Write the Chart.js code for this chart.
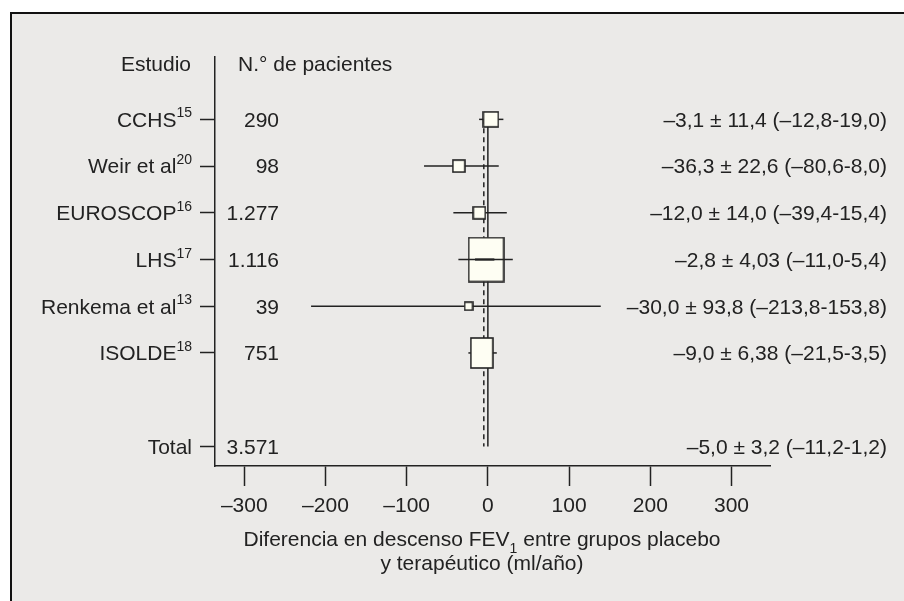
<!DOCTYPE html>
<html>
<head>
<meta charset="utf-8">
<script src="https://cdn.jsdelivr.net/npm/chart.js@4.4.0/dist/chart.umd.min.js"></script>
<style>
  html, body { margin: 0; padding: 0; background: #fff; }
  #frame { position: absolute; left: 10px; top: 12px; right: 0; bottom: 0;
           background: #ebeae8; border-left: 2px solid #111; border-top: 2px solid #111; }
  #wrap { position: absolute; left: 0; top: 0; width: 904px; height: 601px; }
</style>
</head>
<body>
<div id="frame"></div>
<div id="wrap"><canvas id="chart"></canvas></div>
<script>
// Datos del forest plot
const STUDIES = ["CCHS", "Weir et al", "EUROSCOP", "LHS", "Renkema et al", "ISOLDE", "Total"];
const REFS = ["15", "20", "16", "17", "13", "18", ""];
const ROWS = [0, 1, 2, 3, 4, 5, 7];
const PATIENTS = ["290", "98", "1.277", "1.116", "39", "751", "3.571"];
const SUMMARY = [
  "–3,1 ± 11,4 (–12,8-19,0)",
  "–36,3 ± 22,6 (–80,6-8,0)",
  "–12,0 ± 14,0 (–39,4-15,4)",
  "–2,8 ± 4,03 (–11,0-5,4)",
  "–30,0 ± 93,8 (–213,8-153,8)",
  "–9,0 ± 6,38 (–21,5-3,5)",
  "–5,0 ± 3,2 (–11,2-1,2)",
];
// posición de los cuadrados y extremos de las barras tal como están dibujados
const EFFECT = [3.7, -35.8, -10.5, -2.2, -23.8, -7.5];
const CI_LOW = [-10.8, -78.6, -42.5, -36.3, -217.7, -24.0];
const CI_HIGH = [19.1, 13.4, 23.3, 30.7, 139.0, 11.0];
const LHS_INNER = [-15.8, 8.0];
const NO_EFFECT = 0;
const POOLED = -5.0;
const X_TICKS = [-300, -200, -100, 0, 100, 200, 300];
const X_TICK_LABELS = ["–300", "–200", "–100", "0", "100", "200", "300"];

// Estilo
const INK = "#222";
const BOX_FILL = "#fefef3";
const FAMILY = "'Liberation Sans', Arial, sans-serif";
const FS = 21, FS_SMALL = 14;
const BOX_SIZE = [[15, 15], [12, 12], [12, 12.4], [34.7, 44], [8.4, 8], [22, 30]];
const WHISKER_ON_TOP = 3; // en LHS la barra cruza el cuadrado

function boxImage([w, h]) {
  const c = document.createElement("canvas");
  c.width = Math.round(w) + 2; c.height = Math.round(h) + 2;
  const g = c.getContext("2d");
  g.fillStyle = BOX_FILL; g.fillRect(1, 1, c.width - 2, c.height - 2);
  g.strokeStyle = INK; g.lineWidth = 1.6; g.strokeRect(1, 1, c.width - 2, c.height - 2);
  return c;
}
const seg = (x0, x1, y0, y1, extra) => Object.assign({
  data: [{ x: x0, y: y0 }, { x: x1, y: y1 }], showLine: true, pointRadius: 0,
  borderColor: INK, borderWidth: 1.5, order: 2,
}, extra);

// Textos: estudios (con superíndice), n.º de pacientes, resultados, cabeceras y título del eje
const texts = {
  id: "texts",
  afterDraw(chart) {
    const { ctx, scales: { y } } = chart;
    const big = `${FS}px ${FAMILY}`, small = `${FS_SMALL}px ${FAMILY}`;
    ctx.save();
    ctx.fillStyle = INK;
    ctx.textBaseline = "alphabetic";
    ctx.font = big;
    ctx.textAlign = "right"; ctx.fillText("Estudio", 191, 70.7);
    ctx.textAlign = "left"; ctx.fillText("N.° de pacientes", 238, 70.7);
    ROWS.forEach((r, i) => {
      const py = y.getPixelForValue(r) + 7.4;
      ctx.font = small;
      const sw = ctx.measureText(REFS[i]).width;
      ctx.textAlign = "right";
      ctx.fillText(REFS[i], 192, py - 9.4);
      ctx.font = big;
      ctx.fillText(STUDIES[i], 192 - sw, py);
      ctx.fillText(PATIENTS[i], 279, py);
      ctx.fillText(SUMMARY[i], 887, py);
    });
    // título del eje x con subíndice
    const a = "Diferencia en descenso FEV", b = "1", c = " entre grupos placebo";
    ctx.textAlign = "left";
    const wa = ctx.measureText(a).width, wc = ctx.measureText(c).width;
    ctx.font = small;
    const wb = ctx.measureText(b).width;
    const cx = 482, x0 = cx - (wa + wb + wc) / 2;
    ctx.font = big;
    ctx.fillText(a, x0, 545.7);
    ctx.fillText(c, x0 + wa + wb, 545.7);
    ctx.font = small;
    ctx.fillText(b, x0 + wa, 553);
    ctx.font = big;
    ctx.textAlign = "center";
    ctx.fillText("y terapéutico (ml/año)", cx, 570);
    ctx.restore();
  },
};

new Chart(document.getElementById("chart"), {
  type: "scatter",
  data: {
    datasets: [
      // cuadrados
      {
        data: EFFECT.map((v, i) => ({ x: v, y: ROWS[i] })),
        pointStyle: BOX_SIZE.map(boxImage), pointRadius: 3, order: 1,
      },
      seg(LHS_INNER[0], LHS_INNER[1], ROWS[3], ROWS[3], { borderWidth: 2.2, order: 0 }),
      ...CI_LOW.map((lo, i) => seg(lo, CI_HIGH[i], ROWS[i], ROWS[i],
        { order: i === WHISKER_ON_TOP ? 0 : 2 })),
      seg(NO_EFFECT, NO_EFFECT, ROWS[0], ROWS[6], { order: 3 }),
      seg(POOLED, POOLED, ROWS[0], ROWS[6], { order: 3, borderDash: [5, 4] }),
    ],
  },
  options: {
    responsive: true, maintainAspectRatio: false, animation: false,
    layout: { padding: { top: 57, right: 134, left: 0, bottom: 0 } },
    plugins: { legend: { display: false }, tooltip: { enabled: false } },
    scales: {
      x: {
        type: "linear", min: -336, max: 347.4,
        afterFit: s => { s.height = 135; },
        afterBuildTicks: s => { s.ticks = X_TICKS.map(v => ({ value: v })); },
        grid: { drawOnChartArea: false, tickLength: 20, tickWidth: 1.5, tickColor: INK },
        border: { color: INK, width: 1.5 },
        ticks: {
          padding: 8, color: INK, font: { family: FAMILY, size: FS }, maxRotation: 0,
          callback: (v, i) => X_TICK_LABELS[i],
        },
      },
      y: {
        type: "linear", reverse: true, min: -1.335, max: 7.42,
        afterFit: s => { s.width = 215; },
        afterBuildTicks: s => { s.ticks = ROWS.map(v => ({ value: v })); },
        grid: { drawOnChartArea: false, tickLength: 15, tickWidth: 1.5, tickColor: INK },
        border: { color: INK, width: 1.5 },
        ticks: { display: false },
      },
    },
  },
  plugins: [texts],
});
</script>
</body>
</html>
